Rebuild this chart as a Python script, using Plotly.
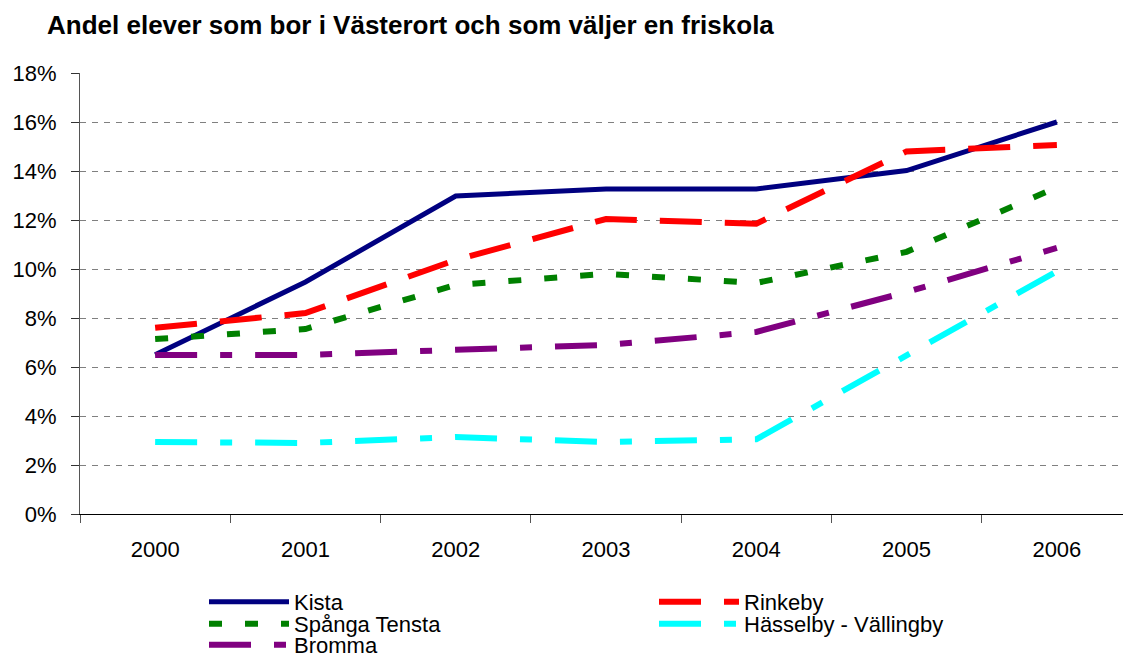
import plotly.graph_objects as go

years = ["2000", "2001", "2002", "2003", "2004", "2005", "2006"]
kista = [0.065, 0.0947, 0.1298, 0.1327, 0.1327, 0.1402, 0.160]
rinkeby = [0.076, 0.082, 0.1037, 0.1204, 0.1185, 0.148, 0.1506]
spanga = [0.0714, 0.0755, 0.0935, 0.098, 0.0943, 0.107, 0.1333]
bromma = [0.0649, 0.0649, 0.067, 0.069, 0.0743, 0.0906, 0.1086]
hasselby = [0.0294, 0.029, 0.0314, 0.0294, 0.0305, 0.0645, 0.099]

# name, values, colour, dash, width, legend row
series = [
    ("Kista", kista, "#000080", "solid", 5, "legend"),
    ("Rinkeby", rinkeby, "#FF0000", "42px,23px", 6, "legend"),
    ("Spånga Tensta", spanga, "#008000", "13px,23px", 6, "legend2"),
    ("Hässelby - Vällingby", hasselby, "#00FFFF", "42px,23px,12px,23px", 6, "legend2"),
    ("Bromma", bromma, "#800080", "42px,23px,12px,23px", 6, "legend3"),
]

fig = go.Figure()
for name, vals, color, dash, w, lg in series:
    fig.add_trace(go.Scatter(
        x=years, y=vals, name=name, mode="lines", legend=lg,
        line=dict(color=color, width=w, dash=dash),
    ))

font = "Liberation Sans, Arial, sans-serif"
W, H = 1123, 657


def leg(ypx):
    return dict(
        orientation="h", xref="container", x=204 / W, xanchor="left",
        yref="container", y=1 - ypx / H, yanchor="middle",
        entrywidth=355, entrywidthmode="pixels",
        itemwidth=80, tracegroupgap=0,
        font=dict(family=font, size=22, color="black"),
        bgcolor="rgba(0,0,0,0)",
    )


fig.update_layout(
    width=W, height=H,
    margin=dict(l=80, r=0, t=73, b=143),
    paper_bgcolor="white", plot_bgcolor="white",
    showlegend=True,
    title=dict(
        text="<b>Andel elever som bor i Västerort och som väljer en friskola</b>",
        x=47 / W, xanchor="left", y=1 - 25 / H, yanchor="middle",
        font=dict(family=font, size=26, color="black"),
    ),
    font=dict(family=font, size=22, color="black"),
    legend=leg(602),
    legend2=leg(624),
    legend3=leg(645),
    xaxis=dict(
        type="category", range=[-0.5, 6.44], automargin=False,
        showline=True, linecolor="black", linewidth=1,
        ticks="outside", tickson="boundaries", ticklen=8,
        tickcolor="#555555", showgrid=False,
        ticklabelstandoff=16,
        tickfont=dict(family=font, size=22, color="black"),
    ),
    yaxis=dict(
        range=[0, 0.18], dtick=0.02, tickformat=".0%", automargin=False,
        showline=True, linecolor="#555555", linewidth=1,
        ticks="outside", ticklen=8, tickcolor="#333333",
        showgrid=True, gridcolor="#808080", griddash="6px,6px", gridwidth=1,
        zeroline=False, ticklabelstandoff=10,
        tickfont=dict(family=font, size=22, color="black"),
    ),
)
fig.write_html("out.html", config={"displayModeBar": False},
               post_script="document.body.style.margin='0px';")
